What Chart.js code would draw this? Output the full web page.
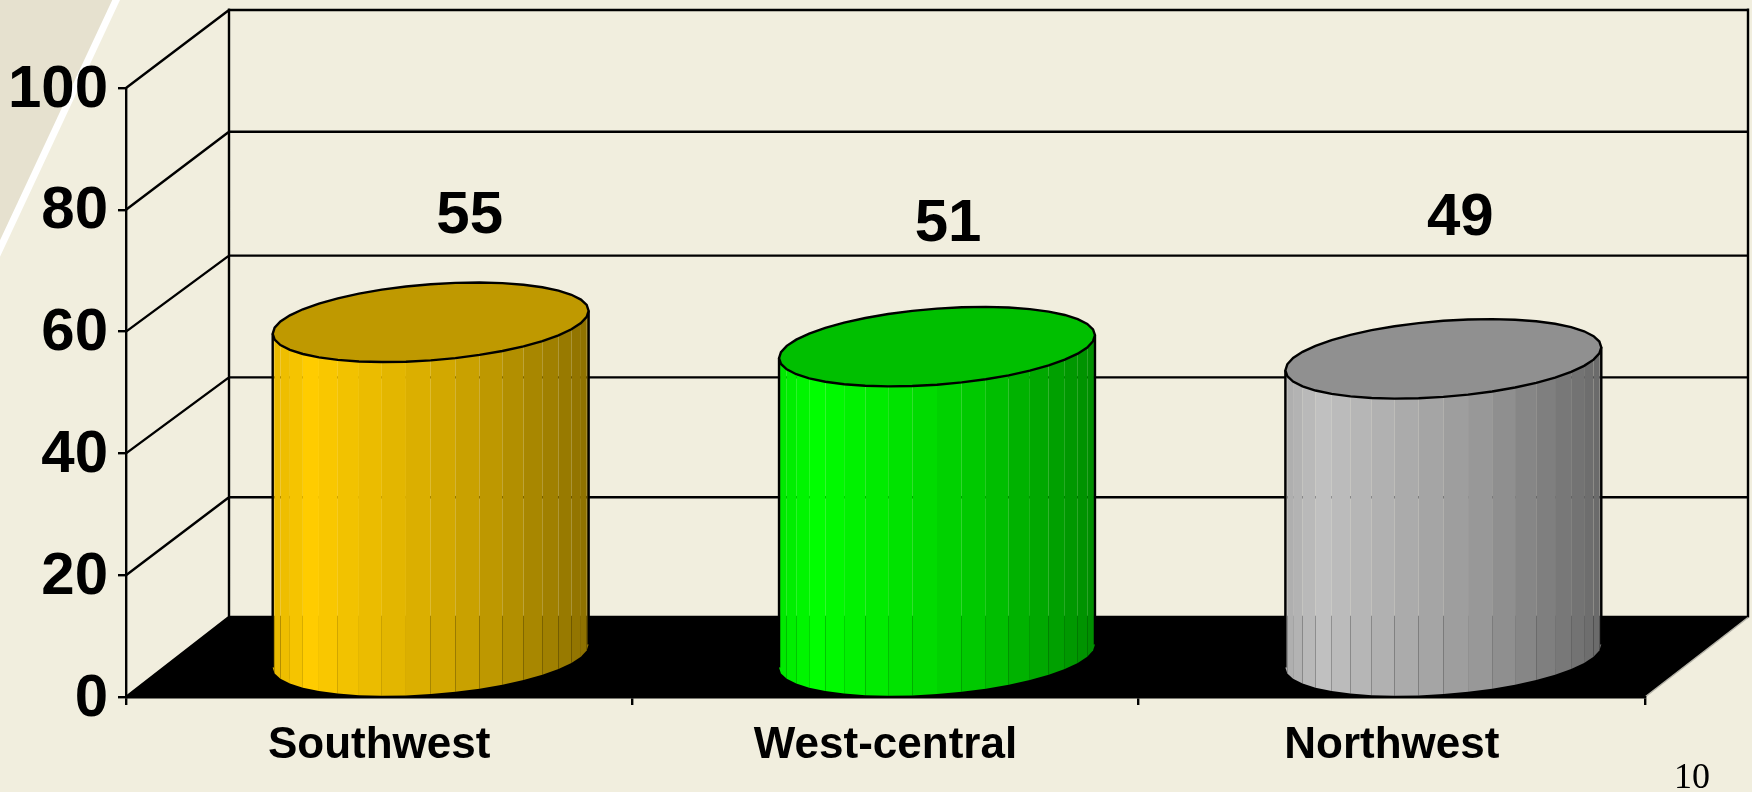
<!DOCTYPE html>
<html>
<head>
<meta charset="utf-8">
<title>Chart</title>
<script src="https://cdn.jsdelivr.net/npm/chart.js@4/dist/chart.umd.min.js"></script>
<style>
  html, body { margin: 0; padding: 0; background: #f1eede; overflow: hidden; }
</style>
</head>
<body>
<canvas id="myChart" width="1752" height="792" style="display:block"></canvas>
<script>
// DATA
let categories = ["Southwest", "West-central", "Northwest"];
let seriesValues = [55, 51, 49];
let yTickValues = [0, 20, 40, 60, 80, 100];

// STYLE
let barColors = [[255, 204, 0], [0, 255, 0], [192, 192, 192]];
let labelNudgeX = [39, 11, 17];   // value labels were placed by hand in the original
let labelNudgeY = [-146, -162, -180];
let wallLift = [80, 78, 76, 76, 78, 78];  // the back wall lines are not quite even
let depthX = 103;
let depthY = 79.5;
let strips = 20;
let tilt = Math.asin(0.29);
let lineW = 2.4;

function shade(c, k) {
  return "rgb(" + c.map(v => Math.round(v * k)).join(",") + ")";
}

function stripShade(f) {
  if (f < 0.12) return 0.9 + f * 0.1 / 0.12;
  if (f < 0.6) return 1 - (f - 0.12) / 0.48 * 0.2;
  return 0.8 - (f - 0.6) / 0.4 * 0.25;
}

// point on the rim of a cylinder, angle runs round the x extent
function rim(cx, cy, r, angle) {
  return {
    x: cx + r * Math.cos(angle),
    y: cy - depthY / 2 * Math.sin(angle + tilt)
  };
}

let room = {
  id: "room",
  beforeDraw(chart) {
    let c = chart.ctx;
    let x = chart.scales.x;
    let y = chart.scales.y;
    let left = x.left, right = x.right, bottom = y.bottom;

    // page background and the corner decoration
    c.save();
    c.fillStyle = "#f1eede";
    c.fillRect(0, 0, chart.width, chart.height);
    c.fillStyle = "#e6e1cf";
    c.beginPath();
    c.moveTo(0, 0);
    c.lineTo(114, 0);
    c.lineTo(0, 242);
    c.closePath();
    c.fill();
    c.strokeStyle = "#ffffff";
    c.lineWidth = 7;
    c.beginPath();
    c.moveTo(118, -4);
    c.lineTo(-4, 257);
    c.stroke();

    // floor
    c.fillStyle = "#000000";
    c.beginPath();
    c.moveTo(left, bottom);
    c.lineTo(left + depthX, bottom - depthY);
    c.lineTo(right + depthX, bottom - depthY);
    c.lineTo(right, bottom);
    c.closePath();
    c.fill();

    // walls
    c.strokeStyle = "#000000";
    c.lineWidth = lineW;
    c.beginPath();
    yTickValues.forEach((v, i) => {
      let py = y.getPixelForValue(v);
      c.moveTo(left, py);
      c.lineTo(left + depthX, py - wallLift[i]);
      c.lineTo(right + depthX, py - wallLift[i]);
    });
    c.moveTo(left + depthX, y.top - depthY);
    c.lineTo(left + depthX, bottom - depthY);
    c.moveTo(right + depthX, y.top - depthY);
    c.lineTo(right + depthX, bottom - depthY);
    c.stroke();

    // right edge of the floor
    c.strokeStyle = "#b5b3a8";
    c.lineWidth = 1.5;
    c.beginPath();
    c.moveTo(right, bottom);
    c.lineTo(right + depthX, bottom - depthY);
    c.stroke();
    c.restore();
  }
};

let cylinders = {
  id: "cylinders",
  afterDatasetsDraw(chart) {
    let c = chart.ctx;
    let bars = chart.getDatasetMeta(0).data;
    c.save();
    bars.forEach((bar, i) => {
      let r = bar.width / 2;
      let cx = bar.x + depthX / 2;
      let topY = bar.y - depthY / 2;
      let baseY = bar.base - depthY / 2;
      let color = barColors[i];

      // side of the cylinder, one flat strip per facet
      for (let s = 0; s < strips; s++) {
        let a0 = Math.PI + s * Math.PI / strips;
        let a1 = Math.PI + (s + 1) * Math.PI / strips;
        let t0 = rim(cx, topY, r, a0), t1 = rim(cx, topY, r, a1);
        let b0 = rim(cx, baseY, r, a0), b1 = rim(cx, baseY, r, a1);
        c.fillStyle = shade(color, stripShade(((t0.x + t1.x) / 2 - (cx - r)) / (2 * r)));
        c.beginPath();
        c.moveTo(t0.x, t0.y);
        c.lineTo(t1.x, t1.y);
        c.lineTo(b1.x, b1.y);
        c.lineTo(b0.x, b0.y);
        c.closePath();
        c.fill();
      }

      // outline of the side
      let tl = rim(cx, topY, r, Math.PI), bl = rim(cx, baseY, r, Math.PI);
      let tr = rim(cx, topY, r, 0), br = rim(cx, baseY, r, 0);
      c.strokeStyle = "#000000";
      c.lineWidth = lineW;
      c.beginPath();
      c.moveTo(tl.x, tl.y);
      c.lineTo(bl.x, bl.y);
      c.moveTo(tr.x, tr.y);
      c.lineTo(br.x, br.y);
      c.stroke();

      // top cap
      c.fillStyle = shade(color, 0.75);
      c.beginPath();
      for (let s = 0; s < strips * 2; s++) {
        let p = rim(cx, topY, r, s * Math.PI / strips);
        if (s == 0) c.moveTo(p.x, p.y);
        else c.lineTo(p.x, p.y);
      }
      c.closePath();
      c.fill();
      c.stroke();

      // value label
      c.fillStyle = "#000000";
      c.font = "bold 60px 'Liberation Sans'";
      c.textAlign = "center";
      c.textBaseline = "middle";
      c.fillText(seriesValues[i], cx + labelNudgeX[i], bar.y + labelNudgeY[i]);
    });

    // slide number
    c.fillStyle = "#000000";
    c.font = "36px 'Liberation Serif'";
    c.textAlign = "center";
    c.textBaseline = "alphabetic";
    c.fillText("10", 1692, 788);
    c.restore();
  }
};

document.addEventListener("DOMContentLoaded", function () {
  let ctx = document.getElementById("myChart").getContext("2d");

  new Chart(ctx, {
    type: "bar",
    data: {
      labels: categories,
      datasets: [
        {
          data: seriesValues,
          backgroundColor: "rgba(0,0,0,0)",
          borderWidth: 0,
          barPercentage: 1,
          categoryPercentage: 0.624
        }
      ]
    },
    plugins: [room, cylinders],
    options: {
      responsive: false,
      animation: false,
      layout: { padding: { left: 0, top: 88, right: 107, bottom: 0 } },
      plugins: {
        legend: { display: false },
        tooltip: { enabled: false }
      },
      scales: {
        x: {
          afterFit: s => { s.height = 95; },
          border: { color: "#000000", width: lineW },
          grid: { offset: true, drawOnChartArea: false, color: "#000000", lineWidth: lineW, tickLength: 8 },
          ticks: {
            color: "#000000",
            padding: 14,
            maxRotation: 0,
            font: { family: "'Liberation Sans'", size: 44, weight: "bold" }
          }
        },
        y: {
          min: 0,
          max: 100,
          afterFit: s => { s.width = 126; },
          afterBuildTicks: s => { s.ticks = yTickValues.map(v => ({ value: v })); },
          border: { color: "#000000", width: lineW },
          grid: { drawOnChartArea: false, color: "#000000", lineWidth: lineW, tickLength: 8 },
          ticks: {
            color: "#000000",
            padding: 10,
            labelOffset: 2,
            font: { family: "'Liberation Sans'", size: 60, weight: "bold" }
          }
        }
      }
    }
  });
});
</script>
</body>
</html>
